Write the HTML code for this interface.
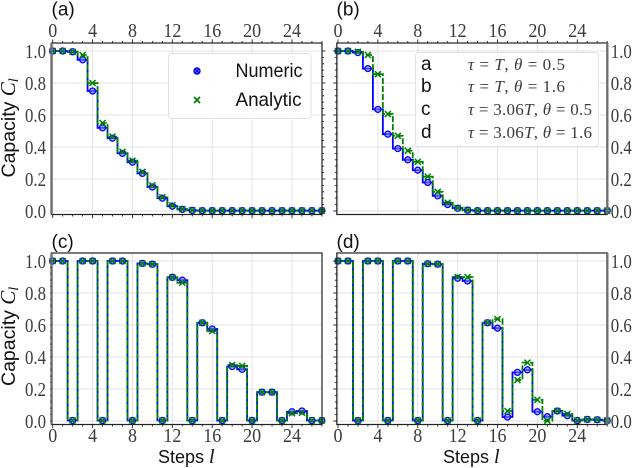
<!DOCTYPE html>
<html>
<head>
<meta charset="utf-8">
<style>
html,body{margin:0;padding:0;background:#fff;width:636px;height:468px;overflow:hidden}
svg{display:block}
text{font-family:"Liberation Sans",sans-serif;fill:#111}
.tick{font-family:"Liberation Serif",serif;font-size:20px;fill:#3c3c3c}
.math{font-family:"Liberation Serif",serif;font-size:17px;fill:#3c3c3c}
</style>
</head>
<body>
<svg id="chart" width="636" height="468" viewBox="0 0 636 468" xmlns="http://www.w3.org/2000/svg">
<g id="plots"></g>

<g>
  <rect x="168.5" y="53.5" width="142.5" height="65" rx="3" fill="#fff" fill-opacity="0.9" stroke="#e2e2e2"/>
  <g>
    <circle cx="197" cy="71" r="3" fill="#7a7aff" stroke="#0000ff" stroke-width="1.4"/>
    <path d="M195 69l4 4M199 69l-4 4" stroke="#0000ff" stroke-width="1"/>
    <text x="235.5" y="77" font-size="19.5" textLength="67" lengthAdjust="spacingAndGlyphs">Numeric</text>
  </g>
  <g>
    <path d="M194 97l6 6M200 97l-6 6" stroke="#008000" stroke-width="1.7"/>
    <text x="235.5" y="106" font-size="19.5" textLength="66" lengthAdjust="spacingAndGlyphs">Analytic</text>
  </g>
</g>

<g>
  <rect x="415.5" y="52.5" width="183" height="94" rx="3" fill="#fff" fill-opacity="0.9" stroke="#e2e2e2"/>
  <g>
    <text x="421" y="70" font-size="19">a</text>
    <text class="math" x="468" y="70" textLength="97"><tspan font-style="italic">τ</tspan> = <tspan font-style="italic">T</tspan>, <tspan font-style="italic">θ</tspan> = 0.5</text>
  </g>
  <g>
    <text x="421" y="92" font-size="19">b</text>
    <text class="math" x="468" y="92" textLength="97"><tspan font-style="italic">τ</tspan> = <tspan font-style="italic">T</tspan>, <tspan font-style="italic">θ</tspan> = 1.6</text>
  </g>
  <g>
    <text x="421" y="115" font-size="19">c</text>
    <text class="math" x="468" y="115" textLength="124"><tspan font-style="italic">τ</tspan> = 3.06<tspan font-style="italic">T</tspan>, <tspan font-style="italic">θ</tspan> = 0.5</text>
  </g>
  <g>
    <text x="421" y="138" font-size="19">d</text>
    <text class="math" x="468" y="138" textLength="124"><tspan font-style="italic">τ</tspan> = 3.06<tspan font-style="italic">T</tspan>, <tspan font-style="italic">θ</tspan> = 1.6</text>
  </g>
</g>

<text x="51.5" y="15.5" font-size="19">(a)</text>
<text x="336.5" y="15.5" font-size="19">(b)</text>
<text x="51.5" y="248" font-size="19">(c)</text>
<text x="336.5" y="248" font-size="19">(d)</text>

<text transform="translate(15,177.5) rotate(-90)" font-size="19.5">Capacity <tspan font-family="Liberation Serif" font-style="italic" font-size="21">C</tspan><tspan font-family="Liberation Serif" font-style="italic" font-size="14" dy="3">l</tspan></text>
<text transform="translate(15,386) rotate(-90)" font-size="19.5">Capacity <tspan font-family="Liberation Serif" font-style="italic" font-size="21">C</tspan><tspan font-family="Liberation Serif" font-style="italic" font-size="14" dy="3">l</tspan></text>
<text x="158" y="463" font-size="18">Steps <tspan font-family="Liberation Serif" font-style="italic" font-size="20">l</tspan></text>
<text x="443" y="463" font-size="18">Steps <tspan font-family="Liberation Serif" font-style="italic" font-size="20">l</tspan></text>
</svg>

<script>
var xTickLabels = [0, 4, 8, 12, 16, 20, 24];
var yTickLabels = ["0.0", "0.2", "0.4", "0.6", "0.8", "1.0"];
var yTickValues = [0, 0.2, 0.4, 0.6, 0.8, 1.0];
var steps = [0,1,2,3,4,5,6,7,8,9,10,11,12,13,14,15,16,17,18,19,20,21,22,23,24,25,26,27];

var numericA  = [1,1,0.995,0.945,0.75,0.52,0.455,0.36,0.305,0.235,0.15,0.08,0.03,0.01,0.004,0.002,0.002,0.002,0.002,0.002,0.002,0.002,0.002,0.002,0.002,0.002,0.002,0.002];
var analyticA = [1,1,0.995,0.975,0.80,0.55,0.465,0.37,0.315,0.245,0.16,0.085,0.035,0.012,0.005,0.002,0.002,0.002,0.002,0.002,0.002,0.002,0.002,0.002,0.002,0.002,0.002,0.002];
var numericB  = [1,1,0.99,0.89,0.635,0.48,0.39,0.32,0.255,0.178,0.095,0.04,0.017,0.005,0.002,0.002,0.002,0.002,0.002,0.002,0.002,0.002,0.002,0.002,0.002,0.002,0.002,0.002];
var analyticB = [1,1,0.995,0.975,0.855,0.606,0.47,0.377,0.308,0.215,0.12,0.052,0.02,0.006,0.002,0.002,0.002,0.002,0.002,0.002,0.002,0.002,0.002,0.002,0.002,0.002,0.002,0.002];
var numericC  = [1,1,0.003,1,1,0.003,1,1,0.003,0.985,0.98,0.003,0.898,0.88,0.003,0.614,0.575,0.003,0.34,0.323,0.003,0.18,0.18,0.003,0.058,0.0625,0.003,0.003];
var analyticC = [1,1,0.003,1,1,0.003,1,1,0.003,0.985,0.98,0.003,0.898,0.864,0.003,0.614,0.5625,0.003,0.35,0.344,0.003,0.18,0.18,0.003,0.048,0.052,0.003,0.003];
var numericD  = [1,1,0.003,1,1,0.003,1,1,0.003,0.983,0.98,0.003,0.892,0.875,0.003,0.614,0.58,0.025,0.304,0.32,0.058,0.027,0.0625,0.033,0.003,0.01,0.008,0.003];
var analyticD = [1,1,0.003,1,1,0.003,1,1,0.003,0.983,0.98,0.003,0.90,0.90,0.003,0.614,0.6375,0.0625,0.256,0.365,0.1325,0.002,0.0625,0.044,0.003,0.01,0.008,0.003];

var SVGNS = "http://www.w3.org/2000/svg";
var plots = document.getElementById("plots");

function mk(tag, parent) {
  var el = document.createElementNS(SVGNS, tag);
  parent.appendChild(el);
  return el;
}

function drawPanel(key, left, top, numeric, analytic, opts) {
  var right = left + 270.5;
  var bottom = top + 171.5;
  var y0 = top + 168;
  function xs(l) { return left + 1.2 + l * 9.97; }
  function ys(v) { return y0 - v * 160; }

  var g = mk("g", plots);
  
  

  var clip = mk("clipPath", g);
  clip.setAttribute("id", "clip-" + key);
  var cr = mk("rect", clip);
  cr.setAttribute("x", left);
  cr.setAttribute("y", top);
  cr.setAttribute("width", right - left);
  cr.setAttribute("height", bottom - top);

  // grid
  var grid = mk("g", g);
  
  
  grid.setAttribute("stroke", "#e3e3e3");
  grid.setAttribute("stroke-width", "1");
  xTickLabels.forEach(function (t) {
    var ln = mk("line", grid);
    ln.setAttribute("x1", xs(t)); ln.setAttribute("x2", xs(t));
    ln.setAttribute("y1", top); ln.setAttribute("y2", bottom);
  });
  yTickValues.forEach(function (t) {
    var ln = mk("line", grid);
    ln.setAttribute("x1", left); ln.setAttribute("x2", right);
    ln.setAttribute("y1", ys(t)); ln.setAttribute("y2", ys(t));
  });

  // step lines
  function stepPath(vals) {
    var d = "M" + xs(steps[0]) + " " + ys(vals[0]);
    for (var i = 1; i < vals.length; i++) {
      var mid = (xs(steps[i - 1]) + xs(steps[i])) / 2;
      d += "H" + mid + "V" + ys(vals[i]);
    }
    d += "H" + xs(steps[steps.length - 1]);
    return d;
  }
  var lineN = mk("path", g);
  
  
  lineN.setAttribute("d", stepPath(numeric));
  lineN.setAttribute("fill", "none");
  lineN.setAttribute("stroke", "#0000ff");
  lineN.setAttribute("stroke-width", "1.8");
  lineN.setAttribute("clip-path", "url(#clip-" + key + ")");

  var lineA = mk("path", g);
  
  
  lineA.setAttribute("d", stepPath(analytic));
  lineA.setAttribute("fill", "none");
  lineA.setAttribute("stroke", "#008000");
  lineA.setAttribute("stroke-width", "1.8");
  lineA.setAttribute("stroke-dasharray", "6 2");
  lineA.setAttribute("clip-path", "url(#clip-" + key + ")");

  // markers
  numeric.forEach(function (v, i) {
    var c = mk("circle", g);
    
    
    c.setAttribute("cx", xs(steps[i]));
    c.setAttribute("cy", ys(v));
    c.setAttribute("r", "3");
    c.setAttribute("fill", "#7a7aff");
    c.setAttribute("fill-opacity", "0.6");
    c.setAttribute("stroke", "#0000ff");
    c.setAttribute("stroke-width", "1.3");
  });
  analytic.forEach(function (v, i) {
    var p = mk("path", g);
    
    
    var x = xs(steps[i]), y = ys(v);
    p.setAttribute("d", "M" + (x - 3) + " " + (y - 3) + "l6 6M" + (x + 3) + " " + (y - 3) + "l-6 6");
    p.setAttribute("stroke", "#008000");
    p.setAttribute("stroke-width", "1.5");
    p.setAttribute("fill", "none");
  });

  // frame
  var frame = mk("rect", g);
  
  
  frame.setAttribute("x", left);
  frame.setAttribute("y", top);
  frame.setAttribute("width", right - left);
  frame.setAttribute("height", bottom - top);
  frame.setAttribute("fill", "none");
  frame.setAttribute("stroke", "#222");
  frame.setAttribute("stroke-width", "1.2");

  var thick = mk("line", g);
  
  
  var tx = opts.rightAxis ? right : left;
  thick.setAttribute("x1", tx); thick.setAttribute("x2", tx);
  thick.setAttribute("y1", top); thick.setAttribute("y2", bottom);
  thick.setAttribute("stroke", "#707070");
  thick.setAttribute("stroke-width", "2.4");

  // ticks
  var ticks = mk("g", g);
  
  
  ticks.setAttribute("stroke", "#222");
  ticks.setAttribute("stroke-width", "0.9");
  for (var l = 0; l <= 27; l++) {
    var len = l % 4 === 0 ? 3.6 : 2;
    if (opts.topTicks) {
      var a = mk("line", ticks);
      a.setAttribute("x1", xs(l)); a.setAttribute("x2", xs(l));
      a.setAttribute("y1", top); a.setAttribute("y2", top - len);
    }
    if (opts.bottomTicks) {
      var b = mk("line", ticks);
      b.setAttribute("x1", xs(l)); b.setAttribute("x2", xs(l));
      b.setAttribute("y1", bottom); b.setAttribute("y2", bottom + len);
    }
  }
  for (var k = 0; k <= 25; k++) {
    var v = k * 0.04;
    var ylen = k % 5 === 0 ? 3.6 : 2;
    var side = mk("line", ticks);
    side.setAttribute("y1", ys(v)); side.setAttribute("y2", ys(v));
    if (opts.outerTicks === "left") {
      side.setAttribute("x1", left); side.setAttribute("x2", left - ylen);
    } else if (opts.outerTicks === "right") {
      side.setAttribute("x1", right); side.setAttribute("x2", right + ylen);
    } else {
      side.setAttribute("x1", left); side.setAttribute("x2", left - 1.2);
    }
  }

  // x labels
  if (opts.xLabelY) {
    xTickLabels.forEach(function (t) {
      var tx2 = mk("text", g);
      
      
      tx2.setAttribute("class", "tick");
      tx2.setAttribute("x", xs(t));
      tx2.setAttribute("y", opts.xLabelY);
      tx2.setAttribute("text-anchor", "middle");
      tx2.setAttribute("textLength", String(t).length * 9);
      tx2.setAttribute("lengthAdjust", "spacingAndGlyphs");
      tx2.textContent = String(t);
    });
  }
  // y labels
  yTickValues.forEach(function (t, i) {
    var ty = mk("text", g);
    
    
    ty.setAttribute("class", "tick");
    ty.setAttribute("x", opts.rightAxis ? right + 3.5 : left - 26.5);
    ty.setAttribute("y", ys(t) + 7);
    ty.setAttribute("textLength", "21");
    ty.setAttribute("lengthAdjust", "spacingAndGlyphs");
    ty.textContent = yTickLabels[i];
  });
}

drawPanel("a", 51.5, 43, numericA, analyticA, {topTicks: true, bottomTicks: true, outerTicks: "right", rightAxis: false, xLabelY: 37});
drawPanel("b", 336.8, 43, numericB, analyticB, {topTicks: true, bottomTicks: false, outerTicks: "left", rightAxis: true, xLabelY: 37});
drawPanel("c", 51.5, 253, numericC, analyticC, {topTicks: false, bottomTicks: true, outerTicks: "none", rightAxis: false, xLabelY: 442});
drawPanel("d", 336.8, 253, numericD, analyticD, {topTicks: false, bottomTicks: true, outerTicks: "left", rightAxis: true, xLabelY: 442});
</script>
</body>
</html>
